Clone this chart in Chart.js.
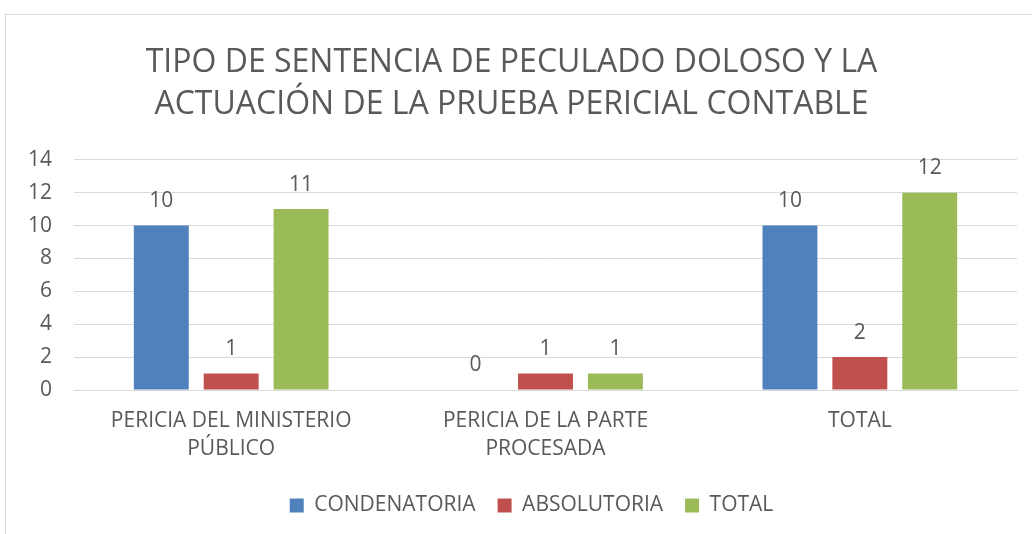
<!DOCTYPE html>
<html>
<head>
<meta charset="utf-8">
<script src="https://cdn.jsdelivr.net/npm/chart.js@4"></script>
<style>
  html, body { margin:0; padding:0; background:#fff; overflow:hidden; }
  #frame { position:absolute; left:5px; top:14px; width:1100px; height:600px; border:1px solid #d9d9d9; }
  #holder { position:absolute; left:0; top:0; width:1032px; height:534px; }
</style>
</head>
<body>
<div id="frame"></div>
<div id="holder"><canvas id="chart-area" width="1032" height="534"></canvas></div>
<script>
var categories = [['PERICIA DEL MINISTERIO', 'PÚBLICO'], ['PERICIA DE LA PARTE', 'PROCESADA'], 'TOTAL'];
var condenatoria = [10, 0, 10];
var absolutoria = [1, 1, 2];
var total = [11, 1, 12];
var yTicks = [0, 2, 4, 6, 8, 10, 12, 14];

var fontName = "'Open Sans', 'Noto Sans', sans-serif";
var textColor = '#595959';
var smallSize = 21;

// etiquetas encima de cada barra
var valueLabels = {
    id: 'valueLabels',
    afterDatasetsDraw: function(chart) {
        var ctx = chart.ctx;
        ctx.save();
        ctx.font = smallSize + 'px ' + fontName;
        ctx.fillStyle = textColor;
        ctx.textAlign = 'center';
        ctx.textBaseline = 'bottom';
        chart.data.datasets.forEach(function(ds, i) {
            var meta = chart.getDatasetMeta(i);
            meta.data.forEach(function(bar, j) {
                ctx.fillText(ds.data[j], bar.x, bar.y - 14);
            });
        });
        ctx.restore();
    }
};

// correr la leyenda un poco a la derecha
var legendShift = {
    id: 'legendShift',
    afterLayout: function(chart) {
        if (chart.legend) {
            chart.legend.left += 20;
            chart.legend.right += 20;
        }
    }
};

var config = {
    type: 'bar',
    data: {
        labels: categories,
        datasets: [
            { label: 'CONDENATORIA', data: condenatoria, backgroundColor: '#4f81bd' },
            { label: 'ABSOLUTORIA', data: absolutoria, backgroundColor: '#c0504d' },
            { label: 'TOTAL', data: total, backgroundColor: '#9bbb59' }
        ]
    },
    options: {
        responsive: false,
        animation: false,
        devicePixelRatio: 1,
        categoryPercentage: 0.667,
        barPercentage: 0.786,
        layout: { padding: { left: 6, right: 15, top: 26, bottom: 8 } },
        plugins: {
            title: {
                display: true,
                text: ['TIPO DE SENTENCIA DE PECULADO DOLOSO Y LA', 'ACTUACIÓN DE LA PRUEBA PERICIAL CONTABLE'],
                color: textColor,
                font: { family: fontName, size: 32, weight: 'normal', lineHeight: 1.34 },
                padding: { top: 15, bottom: 33 }
            },
            legend: {
                position: 'bottom',
                labels: {
                    color: textColor,
                    font: { family: fontName, size: smallSize },
                    boxWidth: 14,
                    boxHeight: 14,
                    padding: 22
                }
            },
            tooltip: { enabled: false }
        },
        scales: {
            x: {
                grid: { display: false },
                border: { color: '#d9d9d9' },
                ticks: { color: textColor, font: { family: fontName, size: smallSize, lineHeight: 1.333 }, padding: 9, maxRotation: 0 },
                afterFit: function(axis) { axis.height += 1; }
            },
            y: {
                min: 0,
                max: 14,
                afterBuildTicks: function(axis) {
                    axis.ticks = yTicks.map(function(v) { return { value: v }; });
                },
                grid: { color: '#d9d9d9', drawTicks: false },
                border: { display: false },
                ticks: { color: textColor, font: { family: fontName, size: smallSize }, padding: 22 }
            }
        }
    },
    plugins: [valueLabels, legendShift]
};

var ctx = document.getElementById('chart-area').getContext('2d');
var myBarChart = new Chart(ctx, config);
</script>
</body>
</html>
